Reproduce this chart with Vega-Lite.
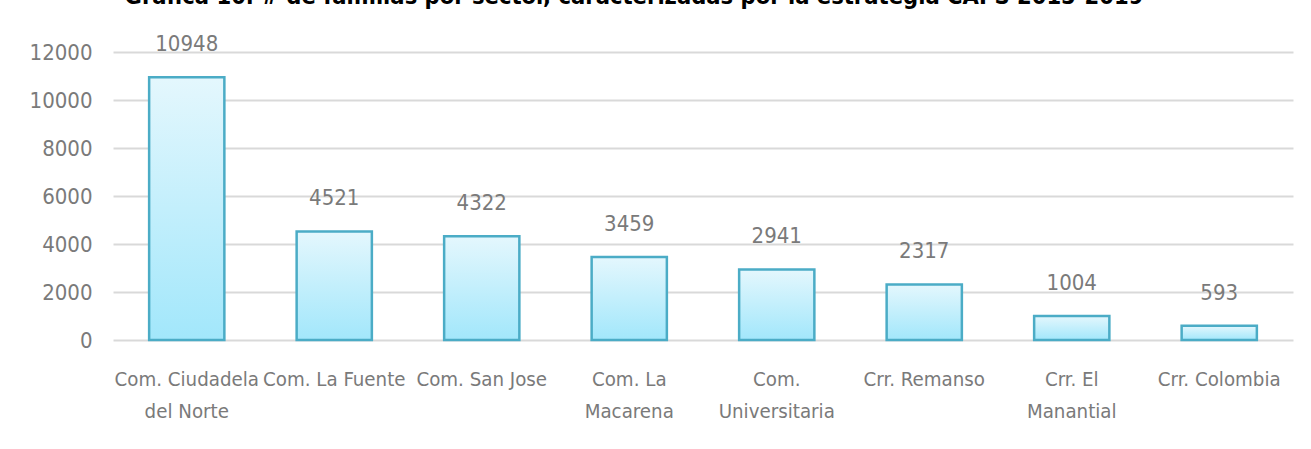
{
  "$schema": "https://vega.github.io/schema/vega-lite/v6.json",
  "width": 1180,
  "height": 288,
  "autosize": {"type": "none"},
  "padding": {"left": 113, "top": 52, "right": 18, "bottom": 109},
  "background": "white",
  "config": {"view": {"stroke": null}},
  "title": {
    "text": "Gráfica 10. # de familias por sector, caracterizadas por la estrategia CAPS 2015-2019",
    "anchor": "middle",
    "frame": "group",
    "font": "DejaVu Sans Condensed",
    "fontWeight": "bold",
    "fontSize": 23.5,
    "color": "#000000",
    "offset": 25,
    "dx": -69
  },
  "data": {
    "values": [
      {"sector": "Com. Ciudadela|del Norte", "familias": 10948},
      {"sector": "Com. La Fuente", "familias": 4521},
      {"sector": "Com. San Jose", "familias": 4322},
      {"sector": "Com. La|Macarena", "familias": 3459},
      {"sector": "Com.|Universitaria", "familias": 2941},
      {"sector": "Crr. Remanso", "familias": 2317},
      {"sector": "Crr. El|Manantial", "familias": 1004},
      {"sector": "Crr. Colombia", "familias": 593}
    ]
  },
  "encoding": {
    "x": {
      "field": "sector",
      "type": "nominal",
      "sort": null,
      "scale": {"paddingInner": 0.49, "paddingOuter": 0.245},
      "axis": {
        "title": null,
        "labelAngle": 0,
        "labelExpr": "split(datum.label, '|')",
        "labelFont": "DejaVu Sans Condensed",
        "labelFontSize": 20.3,
        "labelColor": "#7a7a7a",
        "labelLineHeight": 32,
        "labelPadding": 29,
        "labelBaseline": "top",
        "labelLimit": 400,
        "labelOverlap": false,
        "ticks": false,
        "domain": false,
        "grid": false
      }
    },
    "y": {
      "field": "familias",
      "type": "quantitative",
      "scale": {"domain": [0, 12000], "nice": false},
      "axis": {
        "title": null,
        "values": [0, 2000, 4000, 6000, 8000, 10000, 12000],
        "format": "d",
        "labelFont": "DejaVu Sans Condensed",
        "labelFontSize": 22,
        "labelColor": "#7a7a7a",
        "labelPadding": 21,
        "ticks": false,
        "domain": false,
        "gridColor": "#d9d9d9",
        "gridWidth": 2
      }
    }
  },
  "layer": [
    {
      "mark": {
        "type": "bar",
        "fill": {
          "gradient": "linear",
          "x1": 0, "y1": 0, "x2": 0, "y2": 1,
          "stops": [
            {"offset": 0, "color": "#e4f7fd"},
            {"offset": 1, "color": "#a2e7fb"}
          ]
        },
        "stroke": "#4bacc6",
        "strokeWidth": 2.5
      }
    },
    {
      "mark": {
        "type": "text",
        "baseline": "alphabetic",
        "dy": -26,
        "font": "DejaVu Sans Condensed",
        "fontSize": 22,
        "color": "#7a7a7a"
      },
      "encoding": {"text": {"field": "familias", "type": "quantitative", "format": "d"}}
    }
  ]
}
